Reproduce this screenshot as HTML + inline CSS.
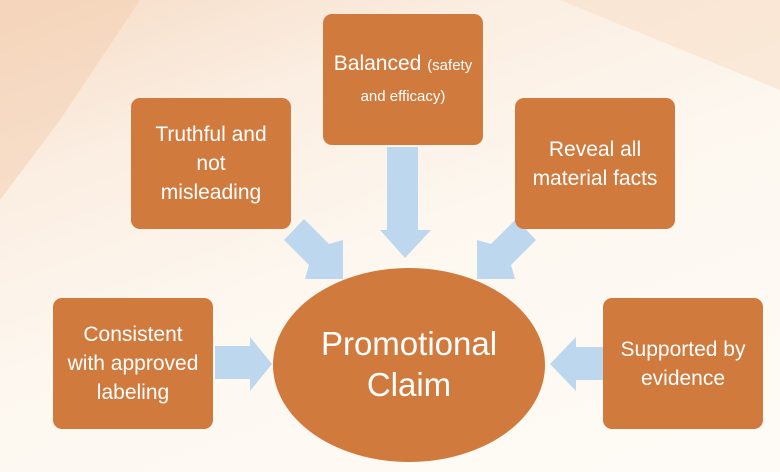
<!DOCTYPE html>
<html><head><style>
body{margin:0;}
.wrap{position:relative;width:780px;height:472px;overflow:hidden;
background:linear-gradient(160deg,#f6dcc6 0%,#fbeee2 25%,#fdf7ef 50%,#fefbf6 100%);
font-family:"Liberation Sans Narrow","Liberation Sans",sans-serif;color:#fff;}
.box{position:absolute;width:160px;height:131px;background:#d07a3e;border-radius:9px;
display:flex;align-items:center;justify-content:center;text-align:center;font-size:21px;line-height:29px;}
</style></head><body><div class="wrap">
<svg width="780" height="472" style="position:absolute;left:0;top:0">
<polygon points="0,0 140,0 60,120 0,200" fill="#f3cdb0" opacity="0.5"/>
<polygon points="560,0 780,0 780,90" fill="#f7dcc4" opacity="0.5"/>
<g fill="#bcd7ee">
<polygon points="387,147 418,147 418,230 431,230 405,258 380,230 387,230"/>
<polygon points="304,219 329,244 343,240 343,279 305,279 309,265 284,240"/>
<polygon points="516,219 491,244 477,240 477,279 515,279 511,265 536,240"/>
<polygon points="215,346 250,346 250,337 272,364 250,391 250,379 215,379"/>
<polygon points="603,347 576,347 576,337 550,364 576,391 576,380 603,380"/>
</g>
<ellipse cx="409" cy="365" rx="136" ry="97" fill="#d07a3e"/>
<text x="409" y="355" text-anchor="middle" font-size="33" fill="#fff" font-family="Liberation Sans Narrow, Liberation Sans, sans-serif">Promotional</text>
<text x="409" y="396" text-anchor="middle" font-size="33" fill="#fff" font-family="Liberation Sans Narrow, Liberation Sans, sans-serif">Claim</text>
</svg>
<div class="box" style="left:323px;top:14px;"><div>Balanced <span style="font-size:15px">(safety<br>and efficacy)</span></div></div>
<div class="box" style="left:131px;top:98px;">Truthful and<br>not<br>misleading</div>
<div class="box" style="left:515px;top:98px;">Reveal all<br>material facts</div>
<div class="box" style="left:53px;top:298px;">Consistent<br>with approved<br>labeling</div>
<div class="box" style="left:603px;top:298px;">Supported by<br>evidence</div>
</div></body></html>
